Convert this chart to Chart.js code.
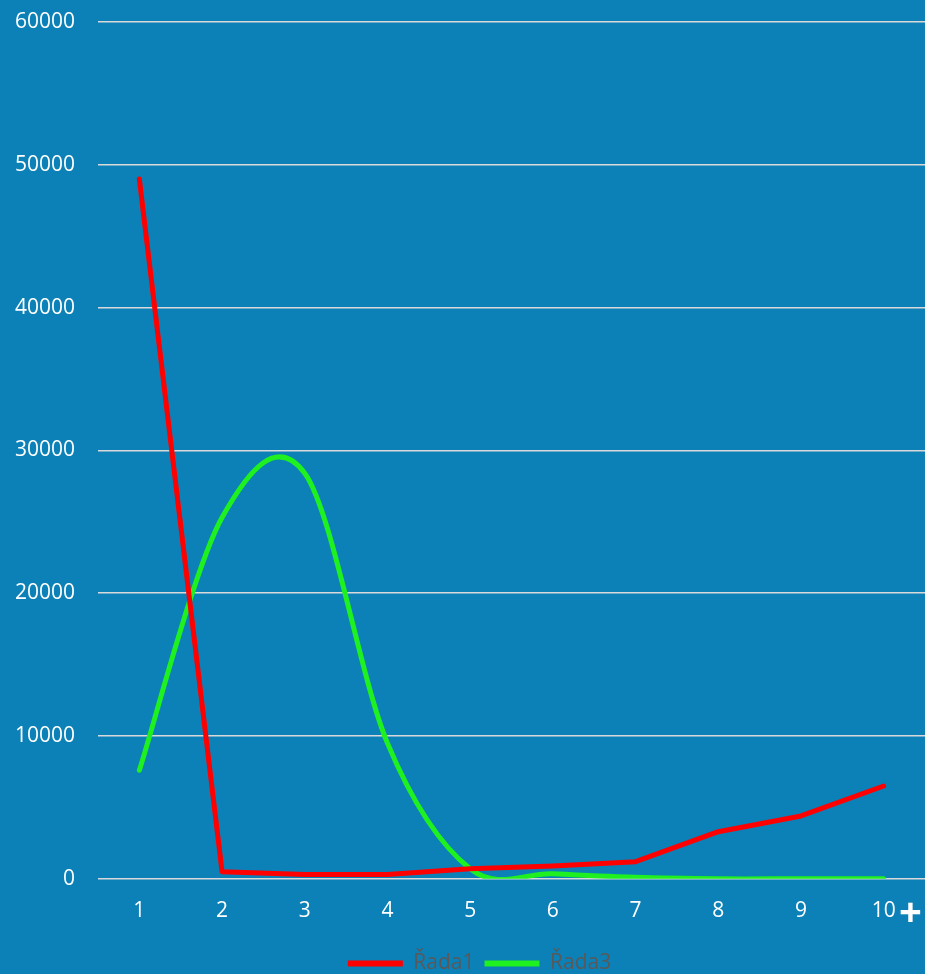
<!DOCTYPE html>
<html>
<head>
<meta charset="utf-8">
<script src="https://cdn.jsdelivr.net/npm/chart.js@4/dist/chart.umd.min.js"></script>
<style>
  html, body { margin: 0; padding: 0; background: #0c81b8; overflow: hidden; }
  #wrap { position: relative; width: 925px; height: 974px; overflow: hidden; }
  #plus {
    position: absolute; left: 899px; top: 891px;
    color: #fff; font: bold 40px "Open Sans", sans-serif; line-height: 1;
  }
</style>
</head>
<body>
<div id="wrap">
  <canvas id="chart" width="925" height="984"></canvas>
  <span id="plus">+</span>
</div>
<script>
const categories = ["1","2","3","4","5","6","7","8","9","10"];
const rada1 = [49000, 500, 300, 300, 700, 900, 1200, 3300, 4400, 6500];
const rada3 = [7600, 25300, 28400, 9500, 700, 350, 100, 0, 0, 0];
const yTicks = [0, 10000, 20000, 30000, 40000, 50000, 60000];

const font = { family: "'Open Sans', sans-serif", size: 21 };

// Excel style smoothing: uniform Catmull-Rom control points on the library's points
const excelSmooth = {
  id: "excelSmooth",
  beforeDatasetDraw(chart, args) {
    const line = args.meta.dataset;
    if (!line.options.tension) return;
    line.updateControlPoints(chart.chartArea, "x");
    const pts = args.meta.data;
    pts.forEach((p, i) => {
      const prev = pts[Math.max(i - 1, 0)];
      const next = pts[Math.min(i + 1, pts.length - 1)];
      const dx = (next.x - prev.x) / 6, dy = (next.y - prev.y) / 6;
      p.cp1x = p.x - dx; p.cp1y = p.y - dy;
      p.cp2x = p.x + dx; p.cp2y = p.y + dy;
    });
  }
};

// legend sits a little right of centre in the original
const legendShift = {
  id: "legendShift",
  afterLayout(chart) {
    chart.legend.left += 17;
    chart.legend.right += 17;
  }
};

let chart = new Chart(document.getElementById("chart"), {
  type: "line",
  data: {
    labels: categories,
    datasets: [
      {
        label: "Řada1",
        data: rada1,
        borderColor: "#ff0000",
        backgroundColor: "#ff0000",
        borderWidth: 5,
        tension: 0,
        pointRadius: 0,
        borderCapStyle: "round",
        borderJoinStyle: "round"
      },
      {
        label: "Řada3",
        data: rada3,
        borderColor: "#1ff01f",
        backgroundColor: "#1ff01f",
        borderWidth: 5,
        tension: 0.4,
        pointRadius: 0,
        borderCapStyle: "round",
        borderJoinStyle: "round"
      }
    ]
  },
  plugins: [excelSmooth, legendShift],
  options: {
    responsive: false,
    animation: false,
    layout: { padding: { top: 22, right: 0, left: 0, bottom: 0 } },
    scales: {
      x: {
        offset: true,
        grid: { display: false },
        border: { display: false },
        afterFit: (s) => { s.height += 7; },
        ticks: { color: "#ffffff", font: font, padding: 12, maxRotation: 0 }
      },
      y: {
        min: 0,
        max: 60000,
        afterBuildTicks: (s) => { s.ticks = yTicks.map(v => ({ value: v })); },
        afterFit: (s) => { s.width = 98; s.paddingTop = 0; s.paddingBottom = 0; },
        grid: { color: "#d9d9d9", lineWidth: 1.5, drawTicks: false },
        border: { display: false },
        ticks: { color: "#ffffff", font: font, padding: 23, callback: (v) => String(v) }
      }
    },
    plugins: {
      tooltip: { enabled: false },
      legend: {
        position: "bottom",
        labels: {
          color: "#595959",
          font: { family: "'Open Sans', sans-serif", size: 21 },
          boxWidth: 55,
          boxHeight: 6,
          padding: 10,
          generateLabels: (c) => c.data.datasets.map((d, i) => ({
            text: d.label,
            fillStyle: d.borderColor,
            strokeStyle: d.borderColor,
            lineWidth: 0,
            fontColor: "#595959",
            datasetIndex: i
          }))
        }
      }
    }
  }
});
</script>
</body>
</html>
